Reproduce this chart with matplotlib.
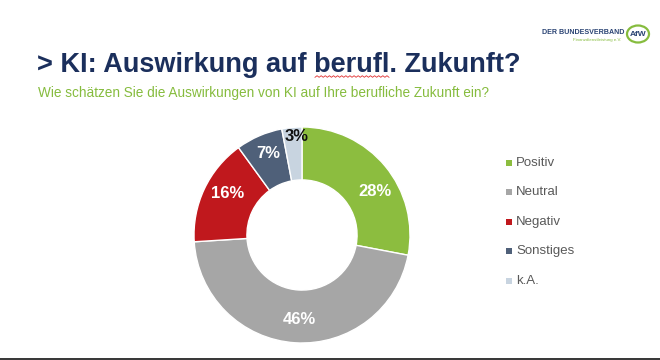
import numpy as np
import matplotlib.pyplot as plt
from matplotlib.patches import Ellipse, Rectangle

# data
categories = ['Positiv', 'Neutral', 'Negativ', 'Sonstiges', 'k.A.']
values = [28, 46, 16, 7, 3]
colors = ['#8cbd3f', '#a6a6a6', '#c0181d', '#4f6079', '#c8d4e0']
label_colors = ['white', 'white', 'white', 'white', '#111111']
label_radius = [0.79, 0.78, 0.79, 0.82, 0.91]
label_shift = [-9, 2, -4, -1, -2]   # degrees, nudges like the original

W, H = 660, 360
fig = plt.figure(figsize=(6.6, 3.6), dpi=100)
fig.patch.set_facecolor('white')

navy = '#1b2f5c'
green = '#86bc3e'

# header
fig.text(37 / W, 1 - 72 / H, '> KI: Auswirkung auf berufl. Zukunft?', fontsize=19.5,
         fontweight='bold', color=navy, va='baseline', ha='left', family='Liberation Sans')
fig.text(38 / W, 1 - 97 / H, 'Wie schätzen Sie die Auswirkungen von KI auf Ihre berufliche Zukunft ein?',
         fontsize=9.8, color=green, va='baseline', ha='left', family='Liberation Sans')

# spellcheck squiggle under "berufl"
sx = np.linspace(315, 389, 37)
sy = 76.5 + 0.8 * (-1) ** np.arange(37)
fig.add_artist(plt.Line2D(sx / W, 1 - sy / H, transform=fig.transFigure, color='#e03030', lw=0.6))

# logo
fig.text(624 / W, 1 - 32 / H, 'DER BUNDESVERBAND', fontsize=5.1, fontweight='bold',
         color='#2b4474', ha='right', va='center', family='Liberation Sans')
fig.text(621 / W, 1 - 40 / H, 'Finanzdienstleistung e.V.', fontsize=3.2,
         color=green, ha='right', va='center', family='Liberation Sans')
fig.patches.append(Ellipse((638 / W, 1 - 34 / H), 22 / W, 17 / H, transform=fig.transFigure,
                           facecolor='none', edgecolor=green, lw=1.6))
fig.text(638 / W, 1 - 34 / H, 'AfW', fontsize=6, fontweight='bold', color='#2b4474',
         ha='center', va='center', family='Liberation Sans')

# bottom border
fig.patches.append(Rectangle((0, 0), 1, 2.5 / H, transform=fig.transFigure,
                             facecolor='#3a3a3a', edgecolor='none'))

# donut
cx, cy, r = 302, 235, 108
ax = fig.add_axes([(cx - r) / W, (H - cy - r) / H, 2 * r / W, 2 * r / H])
wedges, _ = ax.pie(values, colors=colors, startangle=90, counterclock=False,
                   radius=1.0, wedgeprops=dict(width=0.49, edgecolor='white', linewidth=1.0))
ax.set_xlim(-1, 1)
ax.set_ylim(-1, 1)
ax.set_aspect('equal')
ax.axis('off')

for v, w, lc, lr, sh in zip(values, wedges, label_colors, label_radius, label_shift):
    mid = np.deg2rad((w.theta1 + w.theta2) / 2 + sh)
    ax.text(lr * np.cos(mid), lr * np.sin(mid), f'{v}%', ha='center', va='center',
            fontsize=12, fontweight='bold', color=lc, family='Liberation Sans')

# legend
ys = [163, 192, 222, 251, 281]
for name, c, y in zip(categories, colors, ys):
    fig.patches.append(Rectangle((506 / W, 1 - (y + 3) / H), 6 / W, 6 / H,
                                 transform=fig.transFigure, facecolor=c, edgecolor='none'))
    fig.text(516 / W, 1 - y / H, name, fontsize=9.5, color='#595959', ha='left',
             va='center', family='Liberation Sans')

fig.savefig('out.png', dpi=100, facecolor='white')
